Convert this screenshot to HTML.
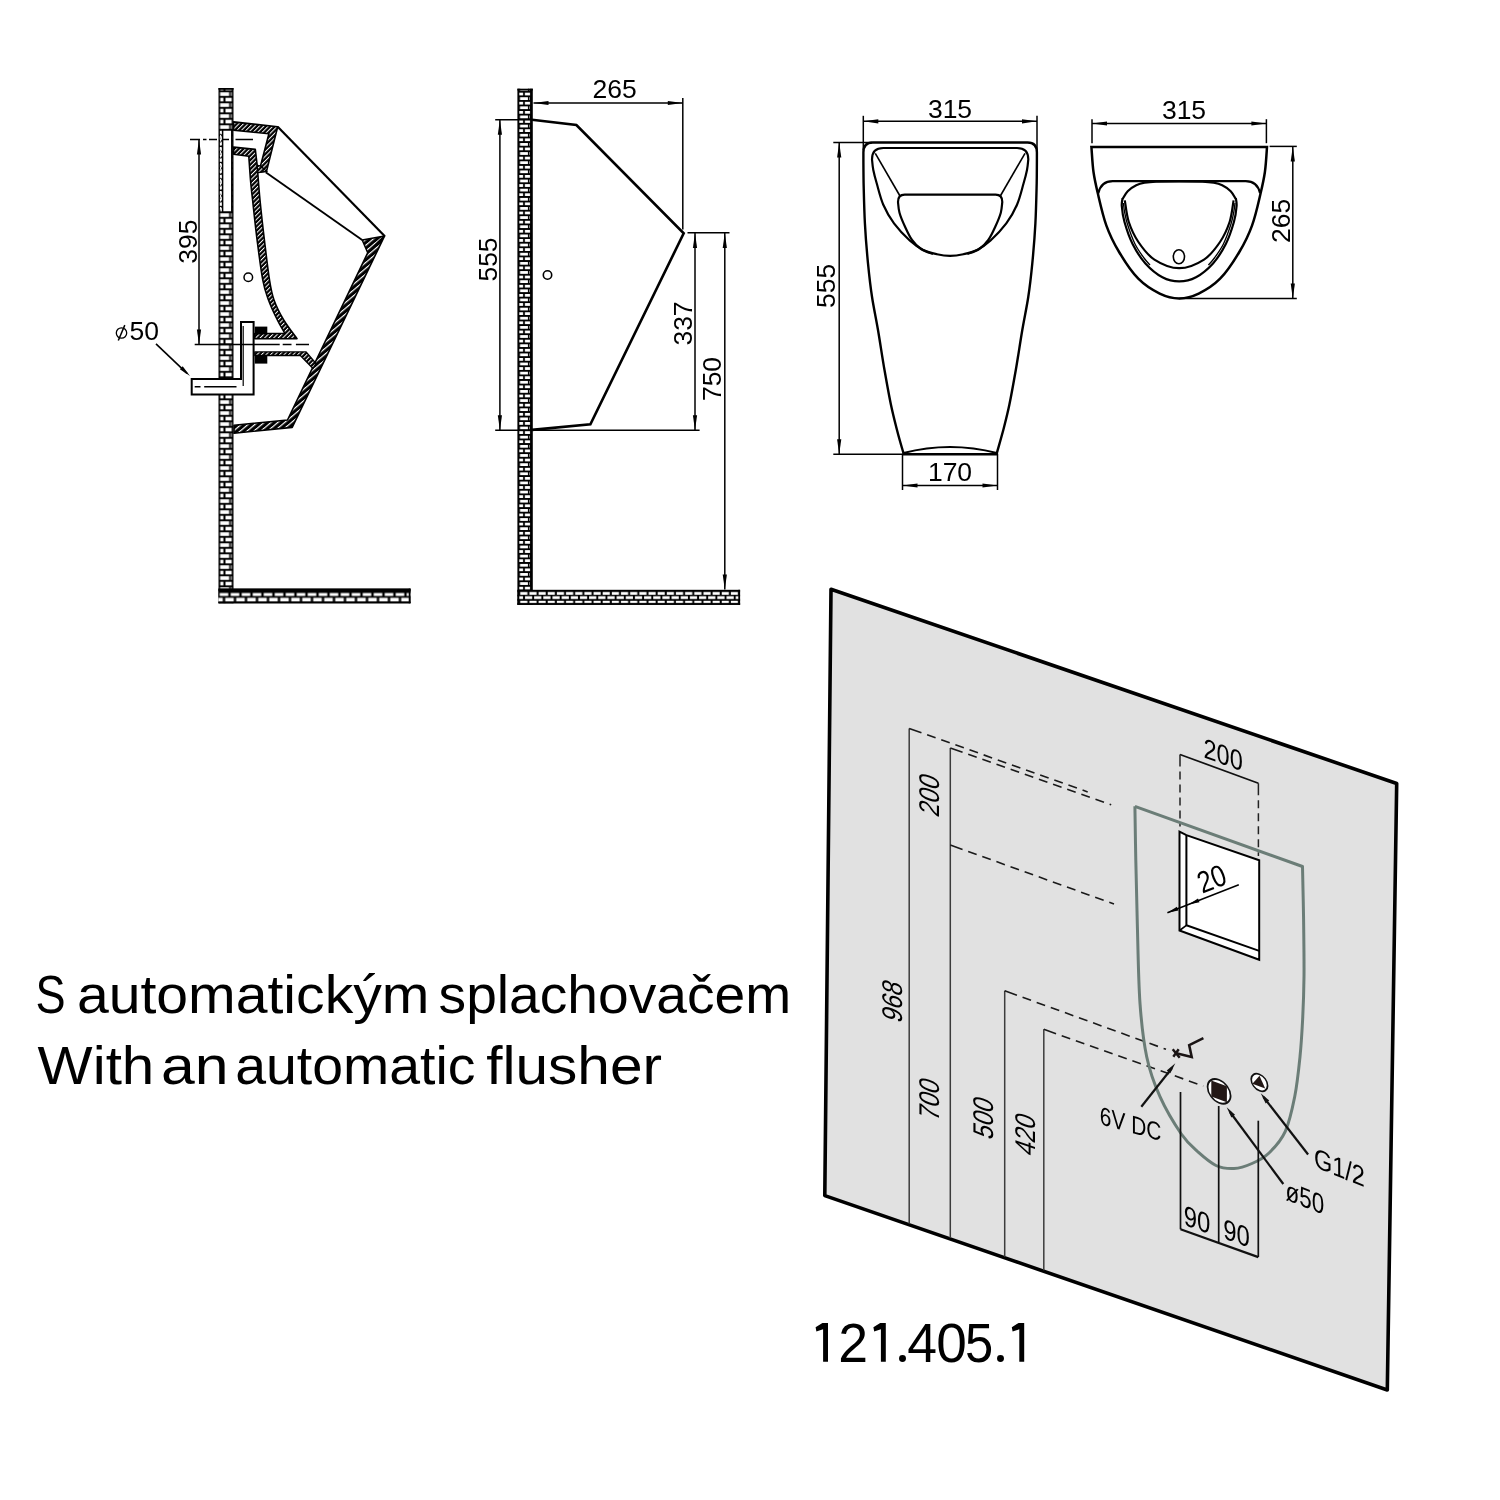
<!DOCTYPE html>
<html><head><meta charset="utf-8">
<style>
html,body{margin:0;padding:0;background:#fff;}
body{width:1500px;height:1500px;overflow:hidden;position:relative;font-family:"Liberation Sans",sans-serif;}
svg{position:absolute;left:0;top:0;will-change:transform;}
</style></head><body>
<svg width="1500" height="1500" viewBox="0 0 1500 1500" font-family="Liberation Sans, sans-serif">
<defs>
  <pattern id="hatch" patternUnits="userSpaceOnUse" width="3.2" height="3.2" patternTransform="rotate(-45)">
    <rect width="3.2" height="3.2" fill="#000"/>
    <rect x="0" y="0" width="3.2" height="1.0" fill="#fff"/>
  </pattern>
  <pattern id="hatch2" patternUnits="userSpaceOnUse" width="4.4" height="4.4" patternTransform="rotate(-40)">
    <rect width="4.4" height="4.4" fill="#000"/>
    <rect x="0" y="0" width="4.4" height="1.2" fill="#fff"/>
  </pattern>
  <pattern id="brickL" patternUnits="userSpaceOnUse" x="218.5" y="85.1" width="15" height="11">
    <rect width="15" height="11" fill="#000"/>
    <rect x="1.8" y="1.7" width="3.1" height="3.6" fill="#fff"/>
    <rect x="7.0" y="1.7" width="6.2" height="3.6" fill="#fff"/>
    <rect x="1.6" y="7.2" width="9.1" height="3.6" fill="#fff"/>
    <rect x="12.4" y="7.2" width="0.9" height="3.6" fill="#fff"/>
  </pattern>
  <pattern id="brickM" patternUnits="userSpaceOnUse" x="517.4" y="83.5" width="15.4" height="9.15">
    <rect width="15.4" height="9.15" fill="#000"/>
    <rect x="1.9" y="0" width="3.8" height="2.75" fill="#fff"/>
    <rect x="7.5" y="0" width="5.1" height="2.75" fill="#fff"/>
    <rect x="2.6" y="4.6" width="7.9" height="2.75" fill="#fff"/>
    <rect x="11.7" y="4.6" width="0.55" height="2.75" fill="#fff"/>
  </pattern>
  <pattern id="floorL" patternUnits="userSpaceOnUse" x="218.5" y="588.6" width="11" height="14.7">
    <rect width="11" height="14.7" fill="#000"/>
    <rect x="1.2" y="4.4" width="8.6" height="3.0" fill="#fff"/>
    <rect x="-4.3" y="9.2" width="8.6" height="3.8" fill="#fff"/>
    <rect x="6.7" y="9.2" width="8.6" height="3.8" fill="#fff"/>
  </pattern>
  <pattern id="floorM" patternUnits="userSpaceOnUse" x="517.6" y="589.8" width="9.16" height="15">
    <rect width="9.16" height="15" fill="#000"/>
    <rect x="2.6" y="2.2" width="7.2" height="2.8" fill="#fff"/>
    <rect x="-6.56" y="2.2" width="7.2" height="2.8" fill="#fff"/>
    <rect x="7.4" y="6.4" width="7.2" height="2.8" fill="#fff"/>
    <rect x="-1.76" y="6.4" width="7.2" height="2.8" fill="#fff"/>
    <rect x="2.6" y="11.0" width="7.2" height="2.4" fill="#fff"/>
    <rect x="-6.56" y="11.0" width="7.2" height="2.4" fill="#fff"/>
  </pattern>
</defs>

<g id="leftview">
<rect x="218.5" y="88" width="15" height="515.3" fill="url(#brickL)"/>
<rect x="218.5" y="88" width="15" height="1.8" fill="#000"/>
<rect x="218.5" y="588.6" width="192" height="14.7" fill="url(#floorL)"/>
<rect x="218.5" y="588.6" width="192" height="2.6" fill="#000"/>
<rect x="408.7" y="588.6" width="1.8" height="14.7" fill="#000"/>
<rect x="218.5" y="601.7" width="192" height="1.6" fill="#000"/>
<rect x="222.6" y="130" width="9.2" height="82" fill="#fff" stroke="#000" stroke-width="1.5"/>
<line x1="220.6" y1="131" x2="220.6" y2="211" stroke="#fff" stroke-width="1.1" stroke-dasharray="2.5,1.5"/>
<polygon points="233.6,121.9 277.7,126.8 266.5,171.2 258.5,172.3 260.5,166.0 268.9,133.8 233.6,130.1" fill="url(#hatch)" stroke="#000" stroke-width="1.6" stroke-linejoin="round"/>
<path d="M233.6,147.1 L255.3,149.4 L257.2,165.5 C257.7,171.2 258.8,187.6 260.0,200.0 C261.2,212.4 262.8,226.7 264.4,240.0 C266.0,253.3 267.9,270.0 269.5,280.0 C271.1,290.0 271.6,293.3 274.0,300.0 C276.4,306.7 279.9,313.6 283.7,320.0 C287.5,326.4 294.8,335.6 297.0,338.7 L254.8,338.7 L254.8,333.5 L285,333.5 C283.7,331.2 280.1,325.6 277.4,320.0 C274.6,314.4 270.9,306.7 268.5,300.0 C266.1,293.3 264.7,290.0 262.8,280.0 C260.9,270.0 258.8,253.3 257.1,240.0 C255.4,226.7 253.7,210.0 252.6,200.0 C251.5,190.0 251.1,187.3 250.5,180.0 C249.9,172.7 249.1,160.2 248.8,156.2 L233.6,154.3 Z" fill="url(#hatch)" stroke="#000" stroke-width="1.6" stroke-linejoin="round"/>
<polygon points="257.2,165.5 260.5,166.0 266.5,171.2 258.5,172.6 257.8,172.6" fill="url(#hatch)" stroke="#000" stroke-width="1.4"/>
<line x1="277.7" y1="126.8" x2="384.6" y2="235.9" stroke="#000" stroke-width="2.20" />
<line x1="265.7" y1="172.3" x2="362.2" y2="240.0" stroke="#000" stroke-width="1.90" />
<polygon points="362.2,240.0 384.6,235.9 367.7,252.8" fill="url(#hatch2)" stroke="#000" stroke-width="1.5" stroke-linejoin="round"/>
<polygon points="384.6,235.9 292.2,427.4 234.0,433.3 234.0,425.2 287.5,420.0 367.7,252.8" fill="url(#hatch2)" stroke="#000" stroke-width="1.6" stroke-linejoin="round"/>
<polygon points="254.8,351.9 306.1,351.9 316.0,363.5 313.0,368.5 300.3,355.5 254.8,355.5" fill="url(#hatch)" stroke="#000" stroke-width="1.3" stroke-linejoin="round"/>
<rect x="254.8" y="326.6" width="12.5" height="7.7" fill="#000"/>
<rect x="254.8" y="355.5" width="12.5" height="8.1" fill="#000"/>
<path d="M191.7,379 L241,379 L241,322 L253.6,322 L253.6,394.4 L191.7,394.4 Z" fill="#fff" stroke="#000" stroke-width="2"/>
<line x1="243.2" y1="326.0" x2="243.2" y2="386.0" stroke="#000" stroke-width="1.20" />
<path d="M194.7,386.8 H200.5 M204.2,386.8 H236.5" stroke="#000" stroke-width="1.4" fill="none"/>
<circle cx="248.3" cy="277.3" r="4.3" fill="none" stroke="#000" stroke-width="1.5"/>
<path d="M194.7,344.5 H279.7 M282.7,344.5 H291.5 M295.9,344.5 H309" stroke="#000" stroke-width="1.4" fill="none"/>
<path d="M190,139.5 H200 M203,139.5 H206.5 M209,139.5 H217 M222.5,139.5 H229 M235.5,139.5 H253" stroke="#000" stroke-width="1.6" fill="none"/>
<line x1="199.0" y1="139.4" x2="199.0" y2="344.5" stroke="#000" stroke-width="1.5"/><path d="M199.0,344.5 L196.9,329.5 L201.1,329.5 Z" fill="#000"/><path d="M199.0,139.4 L201.1,154.4 L196.9,154.4 Z" fill="#000"/>
<text transform="translate(187.5,241.7) rotate(-90)" x="0" y="9.5" font-size="26.5" text-anchor="middle" >395</text>
<circle cx="121.5" cy="333" r="5.2" fill="none" stroke="#000" stroke-width="1.3"/>
<line x1="118.3" y1="340.5" x2="124.8" y2="325.1" stroke="#000" stroke-width="1.50" />
<text x="129.6" y="339.8" font-size="26.5" text-anchor="start" >50</text>
<line x1="156.0" y1="343.8" x2="187.0" y2="373.3" stroke="#000" stroke-width="1.60" />
<path d="M190.0,376.0 L179.9,369.2 L182.7,366.3 Z" fill="#000"/>
</g>
<g id="midview">
<rect x="517.4" y="88.7" width="15.4" height="516.1" fill="url(#brickM)"/>
<rect x="517.4" y="88.7" width="15.4" height="1.8" fill="#000"/>
<rect x="517.6" y="589.8" width="222.5" height="15" fill="url(#floorM)"/>
<rect x="738.3" y="589.8" width="1.8" height="15" fill="#000"/>
<rect x="517.4" y="589.8" width="1.9" height="15" fill="#000"/>
<rect x="517.6" y="603.2" width="222.5" height="1.6" fill="#000"/>
<polyline points="532,119.8 576.4,125 683.7,233.3 590.4,424.3 532,429.9" fill="none" stroke="#000" stroke-width="2.6" stroke-linejoin="miter"/>
<circle cx="547.5" cy="275" r="4.2" fill="none" stroke="#000" stroke-width="1.6"/>
<line x1="533.5" y1="103.0" x2="682.8" y2="103.0" stroke="#000" stroke-width="1.5"/><path d="M682.8,103.0 L667.8,105.1 L667.8,100.9 Z" fill="#000"/><path d="M533.5,103.0 L548.5,100.9 L548.5,105.1 Z" fill="#000"/>
<line x1="682.8" y1="98.0" x2="682.8" y2="229.6" stroke="#000" stroke-width="1.50" />
<text x="614.7" y="98.4" font-size="26.5" text-anchor="middle" >265</text>
<line x1="495.2" y1="119.8" x2="532.0" y2="119.8" stroke="#000" stroke-width="1.50" />
<line x1="499.9" y1="119.8" x2="499.9" y2="430.2" stroke="#000" stroke-width="1.5"/><path d="M499.9,430.2 L497.8,415.2 L502.0,415.2 Z" fill="#000"/><path d="M499.9,119.8 L502.0,134.8 L497.8,134.8 Z" fill="#000"/>
<text transform="translate(487.7,259.5) rotate(-90)" x="0" y="9.5" font-size="26.5" text-anchor="middle" >555</text>
<line x1="687.5" y1="232.8" x2="729.5" y2="232.8" stroke="#000" stroke-width="1.50" />
<line x1="495.2" y1="430.2" x2="699.6" y2="430.2" stroke="#000" stroke-width="1.50" />
<line x1="695.0" y1="233.0" x2="695.0" y2="430.2" stroke="#000" stroke-width="1.5"/><path d="M695.0,430.2 L692.9,415.2 L697.1,415.2 Z" fill="#000"/><path d="M695.0,233.0 L697.1,248.0 L692.9,248.0 Z" fill="#000"/>
<text transform="translate(682.0,323.5) rotate(-90)" x="0" y="9.5" font-size="26.5" text-anchor="middle" >337</text>
<line x1="724.8" y1="233.0" x2="724.8" y2="589.5" stroke="#000" stroke-width="1.5"/><path d="M724.8,589.5 L722.7,574.5 L726.9,574.5 Z" fill="#000"/><path d="M724.8,233.0 L726.9,248.0 L722.7,248.0 Z" fill="#000"/>
<text transform="translate(711.7,379.0) rotate(-90)" x="0" y="9.5" font-size="26.5" text-anchor="middle" >750</text>
</g>
<g id="frontview" fill="none" stroke="#000">
<path d="M872.7,142.5 Q863.4,142.5 863.4,152.5 C863.4,157.6 863.4,171.5 863.6,183.3 C863.9,195.1 864.2,210.0 864.9,223.3 C865.6,236.6 866.8,251.1 868.0,263.3 C869.2,275.5 870.3,285.6 872.0,296.7 C873.7,307.8 875.9,317.8 878.0,330.0 C880.1,342.2 882.3,357.5 884.5,370.0 C886.7,382.5 888.9,395.0 891.0,405.0 C893.1,415.0 895.0,422.1 897.0,430.0 C899.0,437.9 902.2,448.8 903.3,452.5 L903.5,454.2 L996.8,454.2 L997.0,452.5 C998.0,448.8 1001.2,437.9 1003.3,430.0 C1005.3,422.1 1007.2,415.0 1009.3,405.0 C1011.4,395.0 1013.6,382.5 1015.8,370.0 C1018.0,357.5 1020.2,342.2 1022.3,330.0 C1024.4,317.8 1026.6,307.8 1028.3,296.7 C1030.0,285.6 1031.1,275.5 1032.3,263.3 C1033.5,251.1 1034.7,236.6 1035.4,223.3 C1036.1,210.0 1036.4,195.1 1036.7,183.3 C1036.9,171.5 1036.9,157.6 1036.9,152.5 Q1036.9,142.5 1027.6,142.5 Z" stroke-width="2.4"/>
<path d="M903.5,453 Q950,441 996.8,453" stroke-width="2"/>
<path d="M883.3,148 Q872,148 872,159.3 C872.2,161.1 872.5,166.0 873.3,170.0 C874.1,174.0 875.0,177.5 876.7,183.3 C878.4,189.1 880.4,198.0 883.3,204.7 C886.2,211.4 889.5,217.3 894.0,223.3 C898.5,229.3 905.1,236.2 910.0,240.7 C914.9,245.1 918.8,247.8 923.3,250.0 C927.8,252.2 932.5,253.2 937.0,254.2 C941.5,255.2 945.8,255.8 950.1,255.8 C954.5,255.8 958.8,255.2 963.3,254.2 C967.8,253.2 972.5,252.2 977.0,250.0 C981.5,247.8 985.4,245.1 990.3,240.7 C995.2,236.2 1001.8,229.3 1006.3,223.3 C1010.8,217.3 1014.1,211.4 1017.0,204.7 C1019.9,198.0 1021.9,189.1 1023.6,183.3 C1025.3,177.5 1026.2,174.0 1027.0,170.0 C1027.8,166.0 1028.1,161.1 1028.3,159.3 Q1028.3,148 1017.0,148 Z" stroke-width="2.2"/>
<path d="M967.3,254.0 C969.3,253.2 975.8,251.3 979.3,249.0 C982.8,246.7 985.6,243.8 988.3,240.0 C991.0,236.2 993.5,230.6 995.6,226.0 C997.7,221.4 999.7,216.7 1000.8,212.7 C1001.9,208.7 1002.0,203.8 1002.3,202.0 Q1002.3,194.7 995.6,194.7 L904.7,194.7 Q898,194.7 898,202 C898.2,203.8 898.4,208.7 899.5,212.7 C900.6,216.7 902.6,221.4 904.7,226.0 C906.8,230.6 909.3,236.2 912.0,240.0 C914.7,243.8 917.5,246.7 921.0,249.0 C924.5,251.3 931.0,253.2 933.0,254.0" stroke-width="2.2"/>
<line x1="875.3" y1="153.3" x2="900.0" y2="196.0" stroke="#000" stroke-width="1.60" />
<line x1="1025.0" y1="153.3" x2="1000.3" y2="196.0" stroke="#000" stroke-width="1.60" />
</g>
<line x1="863.3" y1="121.3" x2="1037.0" y2="121.3" stroke="#000" stroke-width="1.5"/><path d="M1037.0,121.3 L1022.0,123.4 L1022.0,119.2 Z" fill="#000"/><path d="M863.3,121.3 L878.3,119.2 L878.3,123.4 Z" fill="#000"/>
<line x1="863.3" y1="115.8" x2="863.3" y2="150.0" stroke="#000" stroke-width="1.50" />
<line x1="1037.0" y1="115.8" x2="1037.0" y2="150.0" stroke="#000" stroke-width="1.50" />
<text x="950.0" y="117.5" font-size="26.5" text-anchor="middle" >315</text>
<line x1="833.3" y1="142.5" x2="872.0" y2="142.5" stroke="#000" stroke-width="1.50" />
<line x1="839.2" y1="142.5" x2="839.2" y2="454.2" stroke="#000" stroke-width="1.5"/><path d="M839.2,454.2 L837.1,439.2 L841.3,439.2 Z" fill="#000"/><path d="M839.2,142.5 L841.3,157.5 L837.1,157.5 Z" fill="#000"/>
<text transform="translate(825.8,285.8) rotate(-90)" x="0" y="9.5" font-size="26.5" text-anchor="middle" >555</text>
<line x1="833.3" y1="454.2" x2="903.0" y2="454.2" stroke="#000" stroke-width="1.50" />
<line x1="902.5" y1="454.0" x2="902.5" y2="490.0" stroke="#000" stroke-width="1.50" />
<line x1="997.5" y1="454.0" x2="997.5" y2="490.0" stroke="#000" stroke-width="1.50" />
<line x1="902.5" y1="485.5" x2="997.5" y2="485.5" stroke="#000" stroke-width="1.5"/><path d="M997.5,485.5 L982.5,487.6 L982.5,483.4 Z" fill="#000"/><path d="M902.5,485.5 L917.5,483.4 L917.5,487.6 Z" fill="#000"/>
<text x="950.0" y="480.8" font-size="26.5" text-anchor="middle" >170</text>
<g id="topview" fill="none" stroke="#000">
<path d="M1091.4,146.9 C1091.8,151.1 1092.4,164.3 1093.5,172.0 C1094.6,179.7 1095.7,184.4 1097.8,193.3 C1099.9,202.2 1102.8,215.5 1106.3,225.3 C1109.8,235.1 1113.8,243.1 1119.1,252.0 C1124.4,260.9 1131.5,271.8 1138.3,278.7 C1145.1,285.6 1152.9,290.3 1159.7,293.6 C1166.5,296.9 1172.7,298.4 1179.2,298.4 C1185.7,298.4 1191.9,296.9 1198.7,293.6 C1205.5,290.3 1213.3,285.6 1220.1,278.7 C1226.9,271.8 1234.0,260.9 1239.3,252.0 C1244.6,243.1 1248.6,235.1 1252.1,225.3 C1255.7,215.5 1258.5,202.2 1260.6,193.3 C1262.7,184.4 1263.8,179.7 1264.9,172.0 C1266.0,164.3 1266.7,151.1 1267.0,146.9 Z" stroke-width="2.5"/>
<path d="M1098.3,193.3 C1100,186 1105,181.2 1112.7,181.2 L1245.7,181.2 C1253.4,181.2 1258.4,186 1260.1,193.3" stroke-width="2.2"/>
<path d="M1122.6,198.0 C1122.5,199.3 1121.5,202.0 1121.8,206.0 C1122.1,210.0 1122.7,215.7 1124.5,222.0 C1126.3,228.3 1129.1,237.1 1132.6,244.0 C1136.1,250.9 1140.4,257.9 1145.4,263.4 C1150.4,268.9 1156.8,274.2 1162.4,277.2 C1168.0,280.2 1173.6,281.4 1179.2,281.4 C1184.8,281.4 1190.4,280.2 1196.0,277.2 C1201.6,274.2 1208.0,268.9 1213.0,263.4 C1218.0,257.9 1222.3,250.9 1225.8,244.0 C1229.3,237.1 1232.1,228.3 1233.9,222.0 C1235.7,215.7 1236.3,210.0 1236.6,206.0 C1236.9,202.0 1235.9,199.3 1235.8,198.0" stroke-width="2.2"/>
<path d="M1124.8,200.4 C1125.5,204.0 1126.5,215.1 1128.8,222.0 C1131.1,228.9 1134.1,235.7 1138.4,242.0 C1142.7,248.3 1147.6,255.2 1154.4,259.6 C1161.2,264.0 1170.9,268.2 1179.2,268.2 C1187.5,268.2 1197.2,264.0 1204.0,259.6 C1210.8,255.2 1215.7,248.3 1220.0,242.0 C1224.3,235.7 1227.3,228.9 1229.6,222.0 C1231.9,215.1 1232.9,204.0 1233.6,200.4" stroke-width="2.2"/>
<path d="M1122.6,199.0 C1123.4,197.7 1125.4,193.5 1127.7,191.2 C1130.0,188.9 1133.4,186.7 1136.2,185.3 C1139.0,183.9 1141.4,183.3 1144.7,182.7 C1148.0,182.1 1150.2,181.8 1156.0,181.6 C1161.8,181.4 1171.5,181.4 1179.2,181.4 C1186.9,181.4 1196.7,181.4 1202.4,181.6 C1208.2,181.8 1210.4,182.1 1213.7,182.7 C1217.0,183.3 1219.4,183.9 1222.2,185.3 C1225.0,186.7 1228.4,188.9 1230.7,191.2 C1233.0,193.5 1235.0,197.7 1235.8,199.0" stroke-width="2.2"/>
<path d="M1123.4,203.0 C1123.6,204.5 1123.9,208.5 1124.6,212.0 C1125.3,215.5 1125.7,218.7 1127.4,224.0 C1129.1,229.3 1132.2,238.3 1135.0,244.0 C1137.8,249.7 1141.5,254.5 1144.0,258.0 C1146.5,261.5 1149.0,263.8 1150.0,265.0" stroke-width="1.3"/>
<path d="M1235.0,203.0 C1234.8,204.5 1234.5,208.5 1233.8,212.0 C1233.1,215.5 1232.7,218.7 1231.0,224.0 C1229.3,229.3 1226.2,238.3 1223.4,244.0 C1220.6,249.7 1216.9,254.5 1214.4,258.0 C1211.9,261.5 1209.4,263.8 1208.4,265.0" stroke-width="1.3"/>
<ellipse cx="1178.9" cy="256.8" rx="5.6" ry="7" stroke-width="1.6"/>
</g>
<line x1="1092.0" y1="123.5" x2="1266.4" y2="123.5" stroke="#000" stroke-width="1.5"/><path d="M1266.4,123.5 L1251.4,125.6 L1251.4,121.4 Z" fill="#000"/><path d="M1092.0,123.5 L1107.0,121.4 L1107.0,125.6 Z" fill="#000"/>
<line x1="1092.0" y1="119.2" x2="1092.0" y2="143.2" stroke="#000" stroke-width="1.50" />
<line x1="1266.4" y1="119.2" x2="1266.4" y2="143.2" stroke="#000" stroke-width="1.50" />
<text x="1184.0" y="119.2" font-size="26.5" text-anchor="middle" >315</text>
<line x1="1292.8" y1="146.4" x2="1292.8" y2="298.4" stroke="#000" stroke-width="1.5"/><path d="M1292.8,298.4 L1290.7,283.4 L1294.9,283.4 Z" fill="#000"/><path d="M1292.8,146.4 L1294.9,161.4 L1290.7,161.4 Z" fill="#000"/>
<line x1="1269.6" y1="146.4" x2="1296.8" y2="146.4" stroke="#000" stroke-width="1.50" />
<line x1="1179.0" y1="298.4" x2="1296.8" y2="298.4" stroke="#000" stroke-width="1.50" />
<text transform="translate(1280.0,220.8) rotate(-90)" x="0" y="9.5" font-size="26.5" text-anchor="middle" >265</text>
<g id="panel">
<polygon points="831,589.2 1396.7,783.5 1387.3,1390 824.8,1195.6" fill="#e1e1e1" stroke="#000" stroke-width="3.6" stroke-linejoin="round"/>
<line x1="909.2" y1="728.4" x2="909.2" y2="1223.8" stroke="#3c3c3c" stroke-width="1.50" />
<line x1="950.3" y1="748.0" x2="950.3" y2="1238.0" stroke="#3c3c3c" stroke-width="1.50" />
<line x1="1004.7" y1="990.8" x2="1004.7" y2="1256.8" stroke="#3c3c3c" stroke-width="1.50" />
<line x1="1043.8" y1="1029.3" x2="1043.8" y2="1270.3" stroke="#3c3c3c" stroke-width="1.50" />
<line x1="909.2" y1="728.4" x2="1087.7" y2="791.9" stroke="#1a1a1a" stroke-width="1.60" stroke-dasharray="13,6,9,6,9,6,9,6,9,6,9,6,9,6,9,6,9,6,9,6,9,6,9,6,9,6,9,6"/>
<line x1="950.3" y1="747.9" x2="1111.2" y2="804.8" stroke="#1a1a1a" stroke-width="1.60" stroke-dasharray="13,6,9,6,9,6,9,6,9,6,9,6,9,6,9,6,9,6,9,6,9,6,9,6,9,6,9,6"/>
<line x1="950.3" y1="845.0" x2="1114.0" y2="904.0" stroke="#1a1a1a" stroke-width="1.60" stroke-dasharray="13,6,9,6,9,6,9,6,9,6,9,6,9,6,9,6,9,6,9,6,9,6,9,6,9,6,9,6"/>
<line x1="1004.7" y1="990.8" x2="1166.0" y2="1049.3" stroke="#1a1a1a" stroke-width="1.60" stroke-dasharray="13,6,9,6,9,6,9,6,9,6,9,6,9,6,9,6,9,6,9,6,9,6,9,6,9,6,9,6"/>
<line x1="1043.8" y1="1029.3" x2="1203.3" y2="1086.0" stroke="#1a1a1a" stroke-width="1.60" stroke-dasharray="13,6,9,6,9,6,9,6,9,6,9,6,9,6,9,6,9,6,9,6,9,6,9,6,9,6,9,6"/>
<line x1="1180.0" y1="754.5" x2="1258.4" y2="783.2" stroke="#111" stroke-width="1.70" />
<line x1="1180.0" y1="754.5" x2="1180.0" y2="826.6" stroke="#222" stroke-width="1.50" stroke-dasharray="12,5,8,5,8,5,8,5,8,5"/>
<line x1="1258.4" y1="783.2" x2="1258.4" y2="856.0" stroke="#222" stroke-width="1.50" stroke-dasharray="12,5,8,5,8,5,8,5,8,5"/>
<path d="M1134.9,806.3 L1302.5,866.5 C1302.7,875.4 1303.3,901.6 1303.6,920.0 C1303.8,938.4 1304.2,960.0 1304.0,976.7 C1303.8,993.4 1303.3,1006.7 1302.6,1020.0 C1301.9,1033.3 1301.3,1043.9 1300.0,1056.7 C1298.7,1069.5 1297.2,1084.3 1294.7,1096.7 C1292.2,1109.1 1289.5,1122.0 1285.3,1131.3 C1281.1,1140.6 1274.8,1147.3 1269.3,1152.7 C1263.8,1158.1 1257.9,1160.9 1252.0,1163.5 C1246.1,1166.1 1240.0,1168.2 1234.0,1168.5 C1228.0,1168.8 1222.0,1168.2 1216.0,1165.5 C1210.0,1162.8 1203.8,1157.2 1198.0,1152.0 C1192.2,1146.8 1187.6,1143.2 1181.3,1134.0 C1175.0,1124.8 1165.8,1109.6 1160.0,1096.7 C1154.2,1083.8 1150.0,1072.3 1146.7,1056.7 C1143.4,1041.1 1141.6,1025.5 1140.0,1003.3 C1138.4,981.1 1138.0,947.2 1137.3,923.3 C1136.6,899.4 1136.2,879.5 1135.8,860.0 C1135.4,840.5 1135.1,815.2 1134.9,806.3" fill="none" stroke="#6b7d77" stroke-width="3" stroke-linejoin="round"/>
<polygon points="1179.5,831.7 1186.4,835.2 1259.2,860.3 1259.2,959.8 1179.5,930.5" fill="#fff" stroke="#000" stroke-width="2"/>
<polyline points="1186.4,835.2 1186.4,925.3 1259.2,950.9" fill="none" stroke="#000" stroke-width="2"/>
<line x1="1179.5" y1="930.5" x2="1186.4" y2="925.3" stroke="#000" stroke-width="1.60" />
<line x1="1238.8" y1="884.7" x2="1167.4" y2="912.7" stroke="#000" stroke-width="1.50" />
<path d="M1167.4,912.7 L1176.9,906.8 L1178.4,910.5 Z" fill="#000"/>
<path d="M1188.5,904.4 L1198.0,898.5 L1199.5,902.2 Z" fill="#000"/>
<text transform="translate(1211.5,878.4) rotate(-21.4) scale(0.840,1)" x="0" y="10.92" font-size="30.5" text-anchor="middle" >20</text>
<text transform="matrix(0.840,0.306,0,1,1223.1,754.4)" x="0" y="10.02" font-size="28.0" text-anchor="middle" >200</text>
<text transform="matrix(0,-0.840,1,0.345,891.3,1000.6)" x="0" y="10.20" font-size="28.5" text-anchor="middle" >968</text>
<text transform="matrix(0,-0.840,1,0.345,928.9,1098.6)" x="0" y="10.20" font-size="28.5" text-anchor="middle" >700</text>
<text transform="matrix(0,-0.840,1,0.345,982.8,1117.3)" x="0" y="10.20" font-size="28.5" text-anchor="middle" >500</text>
<text transform="matrix(0,-0.840,1,0.345,1024.6,1133.8)" x="0" y="10.20" font-size="28.5" text-anchor="middle" >420</text>
<text transform="matrix(0,-0.840,1,0.345,929.0,794.5)" x="0" y="10.20" font-size="28.5" text-anchor="middle" >200</text>
<line x1="1180.5" y1="1092.0" x2="1180.5" y2="1229.3" stroke="#111" stroke-width="1.70" />
<line x1="1218.7" y1="1106.0" x2="1218.7" y2="1242.5" stroke="#111" stroke-width="1.70" />
<line x1="1258.3" y1="1120.7" x2="1258.3" y2="1257.1" stroke="#111" stroke-width="1.70" />
<line x1="1180.5" y1="1229.3" x2="1258.3" y2="1257.1" stroke="#111" stroke-width="2.20" />
<text transform="matrix(0.840,0.300,0,1,1197.0,1219.4)" x="0" y="10.20" font-size="28.5" text-anchor="middle" >90</text>
<text transform="matrix(0.840,0.300,0,1,1236.5,1232.8)" x="0" y="10.20" font-size="28.5" text-anchor="middle" >90</text>
<path d="M1172.7,1049.3 L1179.7,1057.7 M1178.7,1049.3 L1173.3,1056.7" stroke="#1a1414" stroke-width="2.5" fill="none"/>
<path d="M1176.3,1053.3 L1191.7,1057 L1189.2,1045.2 L1203.4,1038.2" stroke="#1a1414" stroke-width="2.6" fill="none" stroke-linejoin="miter"/>
<line x1="1141.3" y1="1106.7" x2="1172.0" y2="1068.0" stroke="#111" stroke-width="2.20" />
<path d="M1175.3,1063.3 L1170.3,1073.3 L1166.7,1070.6 Z" fill="#111"/>
<text transform="matrix(0.820,0.230,0,1,1130.6,1123.5)" x="0" y="9.13" font-size="25.5" text-anchor="middle" >6V DC</text>
<g transform="matrix(1,0.38,0,1,1219.1,1091.4)"><circle r="11.5" fill="#fff" stroke="#111" stroke-width="1.8"/><rect x="-7.8" y="-8" width="15.6" height="16" fill="#231816"/></g>
<line x1="1283.3" y1="1184.0" x2="1230.0" y2="1112.0" stroke="#111" stroke-width="2.20" />
<path d="M1226.7,1107.3 L1235.0,1114.8 L1231.4,1117.5 Z" fill="#111"/>
<text transform="matrix(0.800,0.320,0,1,1304.8,1197.3)" x="0" y="10.02" font-size="28.0" text-anchor="middle" >ø50</text>
<g transform="matrix(1,0.38,0,1,1259.4,1082.5)"><circle r="8.2" fill="#fff" stroke="#111" stroke-width="1.7"/><polygon points="0.1,-6.9 -7.0,3.9 5.8,3.9" fill="#231816"/></g>
<line x1="1308.1" y1="1154.5" x2="1263.5" y2="1097.0" stroke="#111" stroke-width="2.20" />
<path d="M1260.7,1093.3 L1269.2,1100.6 L1265.7,1103.4 Z" fill="#111"/>
<text transform="matrix(0.840,0.336,0,1,1339.4,1167.0)" x="0" y="10.02" font-size="28.0" text-anchor="middle" >G1/2</text>
</g>
<text x="35.6" y="1013.3" font-size="54" textLength="30.1" lengthAdjust="spacingAndGlyphs">S</text>
<text x="76.9" y="1013.3" font-size="54" textLength="352.5" lengthAdjust="spacingAndGlyphs">automatickým</text>
<text x="438.6" y="1013.3" font-size="54" textLength="352.5" lengthAdjust="spacingAndGlyphs">splachovačem</text>
<text x="37.6" y="1083.8" font-size="54" textLength="116.7" lengthAdjust="spacingAndGlyphs">With</text>
<text x="161.0" y="1083.8" font-size="54" textLength="67.5" lengthAdjust="spacingAndGlyphs">an</text>
<text x="235.2" y="1083.8" font-size="54" textLength="240.3" lengthAdjust="spacingAndGlyphs">automatic</text>
<text x="486.2" y="1083.8" font-size="54" textLength="175.8" lengthAdjust="spacingAndGlyphs">flusher</text>
<text x="838.2" y="1361.8" font-size="56" textLength="29.8" lengthAdjust="spacingAndGlyphs">2</text>
<text x="907.2" y="1361.8" font-size="56" textLength="29.8" lengthAdjust="spacingAndGlyphs">4</text>
<text x="936.2" y="1361.8" font-size="56" textLength="30.6" lengthAdjust="spacingAndGlyphs">0</text>
<text x="965.0" y="1361.8" font-size="56" textLength="28.2" lengthAdjust="spacingAndGlyphs">5</text>
<path d="M828.0,1323 L828.0,1361.8 L823.1,1361.8 L823.1,1329.2 L816.4,1331.6 L815.6,1327.2 L822.4,1323 Z" fill="#000"/>
<path d="M885.8,1323 L885.8,1361.8 L880.9,1361.8 L880.9,1329.2 L874.2,1331.6 L873.4,1327.2 L880.2,1323 Z" fill="#000"/>
<path d="M1024.2,1323 L1024.2,1361.8 L1019.3,1361.8 L1019.3,1329.2 L1012.6,1331.6 L1011.8,1327.2 L1018.6,1323 Z" fill="#000"/>
<circle cx="902.5" cy="1358.5" r="3.45" fill="#000"/>
<circle cx="1000.5" cy="1358.5" r="3.45" fill="#000"/>
</svg>
</body></html>
